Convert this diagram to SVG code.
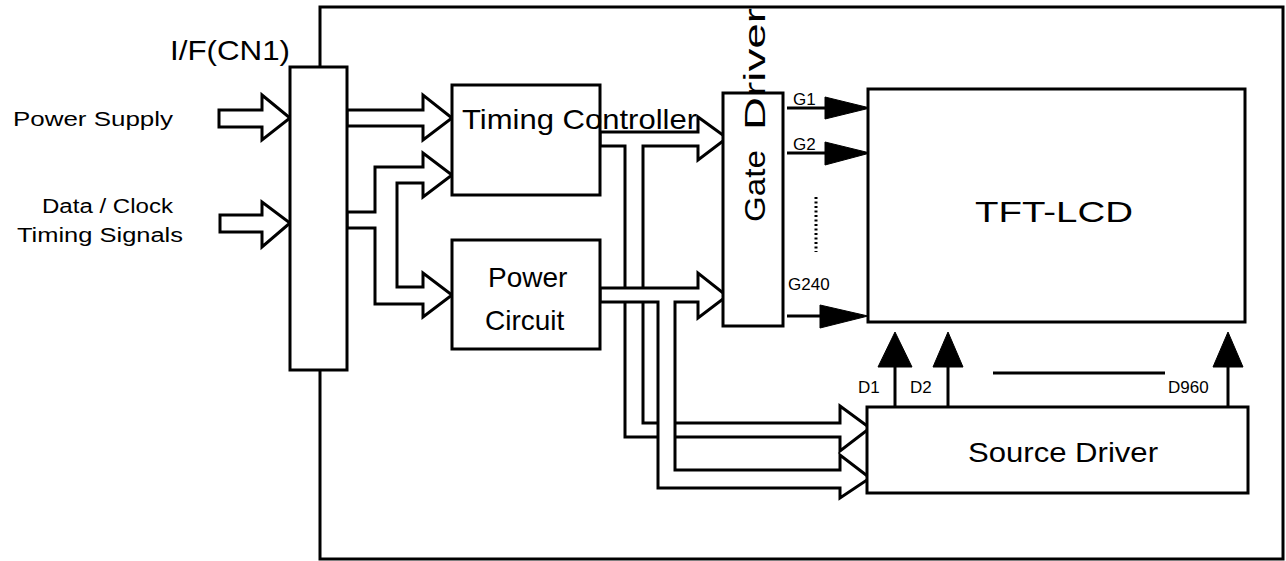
<svg xmlns="http://www.w3.org/2000/svg" width="1286" height="561" viewBox="0 0 1286 561">
<style>
.box{fill:#fff;stroke:#000;stroke-width:3}
.fat{fill:#fff;stroke:#000;stroke-width:3;stroke-linejoin:miter}
.ln{fill:none;stroke:#000;stroke-width:3}
.head{fill:#000;stroke:#000;stroke-width:1}
.t{font-family:"Liberation Sans",Arial,sans-serif;fill:#000}
</style>
<rect width="1286" height="561" fill="#fff"/>
<g id="frame"><rect class="box" x="320" y="7" width="963" height="552" fill="none"/></g>
<g id="connectors">
<polygon class="fat" points="219,110 262,110 262,95 290,118 262,140 262,127 219,127"/>
<polygon class="fat" points="220,215 262,215 262,202 290,223 262,247 262,232 220,232"/>
<polygon class="fat" points="347,110 423,110 423,95 452,118 423,140 423,126 347,126"/>
<polygon class="fat" points="347,212 375,212 375,167 423,167 423,153 452,175 423,197 423,183 397,183 397,287 423,287 423,273 452,295 423,317 423,304 375,304 375,228 347,228"/>
<polygon class="fat" points="600,132 698,132 698,117 727,138 698,160 698,146 643,146 643,423 840,423 840,406 870,428 840,451 840,437 625,437 625,146 600,146"/>
<polygon class="fat" points="600,288 698,288 698,273 727,296 698,318 698,302 675,302 675,470 840,470 840,455 870,478 840,498 840,488 658,488 658,302 600,302"/>
<line class="ln" x1="787" y1="108" x2="830" y2="108"/>
<polygon class="head" points="825,97 870,108 825,119"/>
<line class="ln" x1="787" y1="153" x2="830" y2="153"/>
<polygon class="head" points="825,142 870,153 825,165"/>
<line class="ln" x1="787" y1="316" x2="825" y2="316"/>
<polygon class="head" points="820,305 868,316 820,328"/>
<line x1="816" y1="197" x2="816" y2="252" stroke="#000" stroke-width="3" stroke-dasharray="2,2.5"/>
<line class="ln" x1="895" y1="407" x2="895" y2="362"/>
<polygon class="head" points="878,367 895,332 912,367"/>
<line class="ln" x1="948" y1="407" x2="948" y2="362"/>
<polygon class="head" points="933,367 948,332 963,367"/>
<line class="ln" x1="1228" y1="407" x2="1228" y2="362"/>
<polygon class="head" points="1213,367 1228,332 1243,367"/>
<line class="ln" x1="993" y1="373" x2="1165" y2="373"/>
</g>
<g id="if"><rect class="box" x="290" y="67" width="57" height="303"/>
<text class="t" x="170" y="60" font-size="28" textLength="120" lengthAdjust="spacingAndGlyphs">I/F(CN1)</text></g>
<g id="inputs">
<text class="t" x="13" y="126" font-size="20" textLength="160" lengthAdjust="spacingAndGlyphs">Power  Supply</text>
<text class="t" x="42" y="213" font-size="20" textLength="131" lengthAdjust="spacingAndGlyphs">Data / Clock</text>
<text class="t" x="17" y="242" font-size="20" textLength="166" lengthAdjust="spacingAndGlyphs">Timing  Signals</text>
</g>
<g id="timing"><rect class="box" x="452" y="85" width="148" height="110"/>
<text class="t" x="462" y="129" font-size="28" textLength="235" lengthAdjust="spacingAndGlyphs">Timing  Controller</text></g>
<g id="power"><rect class="box" x="452" y="240" width="148" height="109"/>
<text class="t" x="488" y="287" font-size="28">Power</text>
<text class="t" x="485" y="330" font-size="28">Circuit</text></g>
<g id="gate"><rect class="box" x="723" y="93" width="60" height="233"/>
<text class="t" transform="translate(765,222) rotate(-90)" font-size="30" textLength="72" lengthAdjust="spacingAndGlyphs">Gate</text>
<text class="t" transform="translate(765,130) rotate(-90)" font-size="30" textLength="122" lengthAdjust="spacingAndGlyphs">Driver</text>
<text class="t" x="793" y="105" font-size="17">G1</text>
<text class="t" x="793" y="150" font-size="17">G2</text>
<text class="t" x="788" y="290" font-size="17">G240</text></g>
<g id="tft"><rect class="box" x="868" y="89" width="377" height="233"/>
<text class="t" x="975" y="222" font-size="30" textLength="158" lengthAdjust="spacingAndGlyphs">TFT-LCD</text></g>
<g id="source"><rect class="box" x="867" y="407" width="381" height="86"/>
<text class="t" x="968" y="462" font-size="28" textLength="190" lengthAdjust="spacingAndGlyphs">Source  Driver</text>
<text class="t" x="858" y="393" font-size="17">D1</text>
<text class="t" x="910" y="393" font-size="17">D2</text>
<text class="t" x="1168" y="393" font-size="17">D960</text></g>
</svg>
